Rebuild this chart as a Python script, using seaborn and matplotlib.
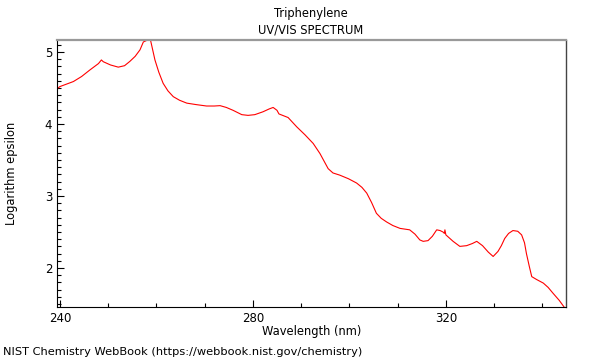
import numpy as np
import pandas as pd
import matplotlib
matplotlib.use('Agg')
import matplotlib.pyplot as plt
import seaborn as sns
from matplotlib.ticker import MultipleLocator

# ── data ────────────────────────────────────────────────
wavelength = [239.4, 240.0, 242.8, 244.5, 246.2, 248.0, 248.6, 249.0, 250.5, 252.1,
              253.4, 254.5, 255.6, 256.6, 257.3, 258.3, 258.8, 259.7, 260.5, 261.4,
              262.4, 263.5, 264.8, 266.3, 268.2, 270.4, 272.0, 273.2, 274.5, 275.9,
              277.7, 279.0, 280.4, 282.1, 283.4, 284.2, 285.0, 285.4, 287.3, 289.1,
              290.8, 292.5, 293.9, 295.6, 296.6, 298.0, 299.8, 301.5, 302.6, 303.6,
              304.6, 305.6, 306.6, 307.7, 309.0, 310.5, 312.5, 313.6, 314.6, 315.3,
              316.3, 317.2, 318.1, 318.8, 319.4, 319.7, 319.8, 320.0, 321.5, 322.9,
              324.3, 325.5, 326.4, 327.6, 328.8, 329.8, 330.8, 331.5, 332.2, 333.0,
              333.9, 334.9, 335.7, 336.3, 336.7, 337.3, 337.8, 338.8, 340.2, 341.2,
              342.2, 343.5, 344.7]
log_eps = [4.49, 4.52, 4.59, 4.66, 4.75, 4.84, 4.89, 4.865, 4.82, 4.79,
           4.81, 4.87, 4.94, 5.03, 5.14, 5.17, 5.16, 4.89, 4.72, 4.565,
           4.46, 4.38, 4.33, 4.29, 4.27, 4.25, 4.25, 4.255, 4.23, 4.19,
           4.13, 4.12, 4.13, 4.17, 4.21, 4.23, 4.19, 4.14, 4.09, 3.96,
           3.85, 3.73, 3.59, 3.38, 3.32, 3.29, 3.24, 3.18, 3.12, 3.04,
           2.91, 2.76, 2.69, 2.64, 2.59, 2.55, 2.53, 2.47, 2.39, 2.37,
           2.38, 2.44, 2.53, 2.52, 2.50, 2.48, 2.53, 2.46, 2.37, 2.30,
           2.31, 2.34, 2.37, 2.31, 2.22, 2.16, 2.23, 2.31, 2.41, 2.48,
           2.52, 2.51, 2.46, 2.35, 2.20, 2.02, 1.88, 1.84, 1.79, 1.73,
           1.65, 1.55, 1.44]

title_lines = ["Triphenylene", "UV/VIS SPECTRUM"]
x_label = "Wavelength (nm)"
y_label = "Logarithm epsilon"
footer = "NIST Chemistry WebBook (https://webbook.nist.gov/chemistry)"

df = pd.DataFrame({'wavelength': wavelength, 'log_eps': log_eps})

# ── plot ────────────────────────────────────────────────
sns.set_style('white')
plt.rcParams['font.family'] = ['DejaVu Sans']
plt.rcParams['text.color'] = 'black'
plt.rcParams['axes.labelcolor'] = 'black'
plt.rcParams['xtick.color'] = 'black'
plt.rcParams['ytick.color'] = 'black'

fig = plt.figure(figsize=(6, 3.6), dpi=100)
ax = fig.add_axes([57 / 600, 1 - 307 / 360, 509 / 600, 267 / 360])

sns.lineplot(data=df, x='wavelength', y='log_eps', ax=ax,
             color='red', linewidth=0.8, estimator=None, sort=False)

ax.set_xlim(239.4, 344.9)
ax.set_ylim(1.458, 5.167)
ax.xaxis.set_major_locator(MultipleLocator(40))
ax.xaxis.set_minor_locator(MultipleLocator(10))
ax.yaxis.set_major_locator(MultipleLocator(1))
ax.yaxis.set_minor_locator(MultipleLocator(0.1))
ax.tick_params(which='both', direction='in', color='black', labelsize=8.5,
               bottom=True, left=True, top=False, right=False)
ax.tick_params(which='major', length=5, width=0.8)
ax.tick_params(which='minor', length=3, width=0.8)

for side in ['left', 'bottom']:
    ax.spines[side].set_color('black')
    ax.spines[side].set_linewidth(0.8)
ax.spines['top'].set_color('#999999')
ax.spines['top'].set_linewidth(1.6)
ax.spines['right'].set_color('#444444')
ax.spines['right'].set_linewidth(1.0)

ax.set_xlabel(x_label, fontsize=8.3, labelpad=0)
ax.set_ylabel(y_label, fontsize=8.3, labelpad=19)

fig.text(311 / 600, 1 - 13 / 360, title_lines[0], ha='center', va='center', fontsize=8.3)
fig.text(311 / 600, 1 - 30 / 360, title_lines[1], ha='center', va='center', fontsize=8.3)
fig.text(3 / 600, 1 - 352 / 360, footer, ha='left', va='center', fontsize=8.2)

fig.savefig('out.png', dpi=100)
